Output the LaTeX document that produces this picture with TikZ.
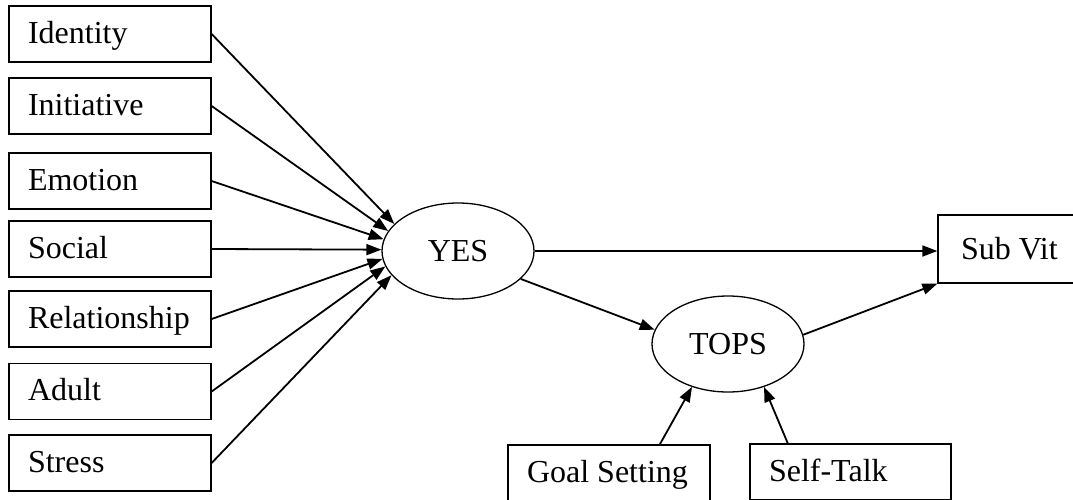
\documentclass[tikz,border=0pt]{standalone}
\usepackage{fontspec}
\setmainfont{Liberation Serif}
\usetikzlibrary{arrows.meta,shapes.geometric,calc}
\begin{document}
\begin{tikzpicture}[x=1pt,y=-1pt,
  every node/.style={font=\fontsize{32}{37}\selectfont},
  box/.style={draw, line width=1.3pt, rectangle, minimum height=56pt, text width=164pt, inner xsep=19pt, inner ysep=0pt, align=flush left, text height=21pt, text depth=3pt},
  latent/.style={draw, line width=1.3pt, ellipse, minimum width=152pt, minimum height=96pt, inner sep=0pt, text height=21pt, text depth=0pt},
  edge/.style={line width=1.8pt, -{Triangle[length=15pt,width=11pt]}}]
\useasboundingbox (0,0) rectangle (1073,499);
\clip (0,0) rectangle (1073,499);
\node[box] (identity) at (110,34) {Identity};
\node[box] (initiative) at (110,106) {Initiative};
\node[box] (emotion) at (110,181) {Emotion};
\node[box] (social) at (110,249) {Social};
\node[box] (relationship) at (110,319) {Relationship};
\node[box] (adult) at (110,391.5) {Adult};
\node[box] (stress) at (110,463) {Stress};
\node[latent] (yes) at (458,251) {YES};
\node[latent] (tops) at (728,344) {TOPS};
\node[box, minimum height=68pt, text width=156pt, inner xsep=23pt, text depth=0pt] (subvit) at (1039,249) {Sub Vit};
\node[box] (goal) at (609,473) {Goal Setting};
\node[box, text width=163pt] (selftalk) at (850.5,472) {Self-Talk};
\draw[edge] (identity.east) -- (yes.157);
\draw[edge] (initiative.east) -- (yes.164);
\draw[edge] (emotion.east) -- (yes.171);
\draw[edge] (social.east) -- (yes.179);
\draw[edge] (relationship.east) -- (yes.186);
\draw[edge] (adult.east) -- (yes.192);
\draw[edge] (stress.east) -- (yes.200);
\draw[edge] (yes.east) -- (yes.east -| subvit.west);
\draw[edge] (yes.336) -- (tops.169);
\draw[edge] (tops.7) -- (subvit.south west);
\draw[edge] ($(goal.north west)!0.75!(goal.north east)$) -- (tops.230);
\draw[edge] ($(selftalk.north west)!0.19!(selftalk.north east)$) -- (tops.310);
\end{tikzpicture}
\end{document}
